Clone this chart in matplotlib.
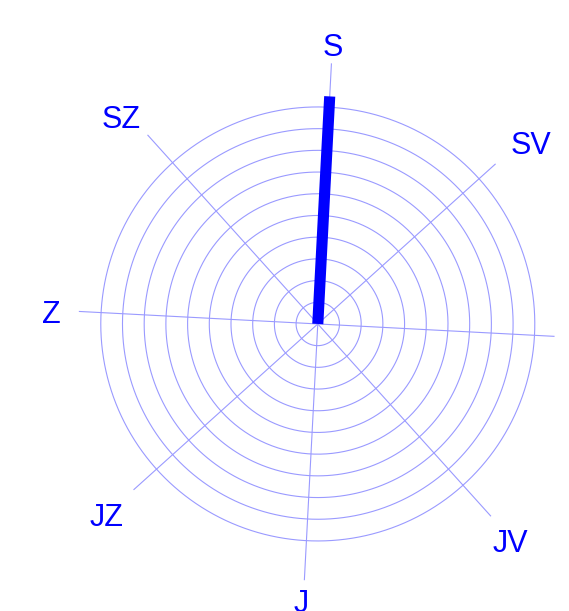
import numpy as np
import matplotlib.pyplot as plt
from matplotlib.transforms import offset_copy

# compass directions (Czech), clockwise from north
directions = ["S", "SV", "V", "JV", "J", "JZ", "Z", "SZ"]
dir_angles = [0, 45, 90, 135, 180, 225, 270, 315]
spoke_len = [12.0, 11.0, 10.9, 11.9, 11.8, 11.4, 11.0, 11.7]
# label placement; V falls outside the picture in the original, so not drawn
label_ang = [0, 46.5, None, 135.2, 180.5, 225, 269.7, 313.7]
label_r = [12.93, 12.9, None, 13.34, 12.73, 13.11, 12.3, 13.19]

# single bar (wind direction / magnitude)
bar_angle = [0]
bar_value = [10.5]

rings = list(range(1, 11))

fig = plt.figure(figsize=(5.69, 6.11), dpi=100)
ax = fig.add_axes([0.0932, 0.0365, 0.9306, 0.8666], projection="polar")
ax.set_theta_zero_location("N", offset=-3)
ax.set_theta_direction(-1)
ax.set_ylim(0, 12.2)

grid_col = "#9a9aff"
th = np.linspace(0, 2 * np.pi, 400)
for r in rings:
    ax.plot(th, np.full_like(th, r), color=grid_col, lw=0.8)

for ang, L in zip(dir_angles, spoke_len):
    t = np.deg2rad(ang)
    ax.plot([t, t], [0, L], color=grid_col, lw=0.8)

txt_tr = offset_copy(ax.transData, fig=fig, x=0, y=-4, units="dots")
for lab, la, lr in zip(directions, label_ang, label_r):
    if lr is None:
        continue
    ax.text(np.deg2rad(la), lr, lab, color="#0000ff", fontsize=22,
            family="Liberation Sans", ha="center", va="center",
            clip_on=False, transform=txt_tr)

for a, v in zip(bar_angle, bar_value):
    t = np.deg2rad(a)
    ax.plot([t, t], [0, v], color="#0000ff", lw=8, solid_capstyle="butt")

ax.grid(False)
ax.set_xticks([])
ax.set_yticks([])
ax.spines["polar"].set_visible(False)
ax.patch.set_visible(False)

fig.savefig("out.png", dpi=100)
